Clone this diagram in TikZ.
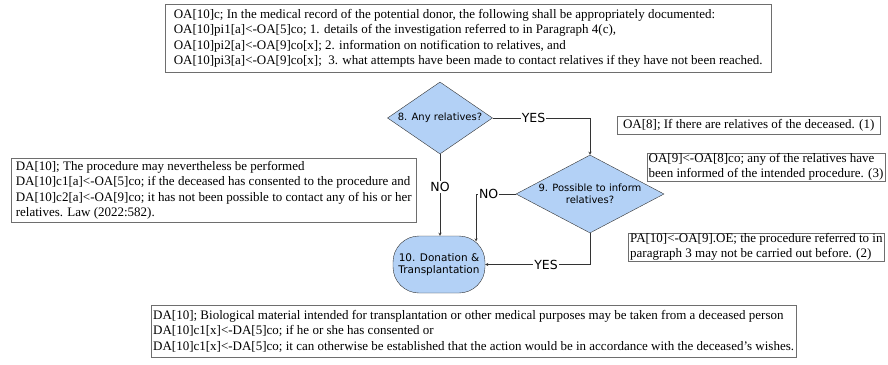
\documentclass[tikz,border=0pt]{standalone}
\usepackage{fontspec}
\setmainfont{Liberation Serif}
\newfontfamily\flowfont{DejaVu Sans}
\usetikzlibrary{shapes.geometric}

\definecolor{flowblue}{HTML}{B3D1F6}
\definecolor{boxgray}{HTML}{6E6E6E}
\definecolor{linegray}{HTML}{333333}

\tikzset{
    lawbox/.style={rectangle, draw=boxgray, align=left, anchor=north west,
        inner xsep=2pt, inner ysep=0pt, font=\fontsize{13}{15.3}\selectfont},
    decision/.style={diamond, draw=linegray, fill=flowblue, inner sep=0pt,
        align=center, font=\flowfont\fontsize{10}{12.5}\selectfont},
    terminal/.style={rectangle, rounded corners=26pt, draw=linegray, fill=flowblue,
        align=center, minimum width=92pt, minimum height=57pt,
        font=\flowfont\fontsize{10.5}{12.5}\selectfont},
    answer/.style={fill=white, inner sep=1pt, font=\flowfont\fontsize{12.5}{14}\selectfont},
    flow/.style={->, draw=linegray}
}

\begin{document}
\begin{tikzpicture}[x=1pt, y=-1pt, >=stealth]
    \useasboundingbox (0,0) rectangle (888,364);

    % Law text boxes
    \node[lawbox, minimum width=606pt, minimum height=68pt] (oa10) at (165,4)
        {OA[10]c; In the medical record of the potential donor, the following shall be appropriately documented:\\
         OA[10]pi1[a]<-OA[5]co; 1. details of the investigation referred to in Paragraph 4(c),\\
         OA[10]pi2[a]<-OA[9]co[x]; 2. information on notification to relatives, and\\
         OA[10]pi3[a]<-OA[9]co[x];\ \ 3. what attempts have been made to contact relatives if they have not been reached.};
    \node[lawbox, minimum width=405pt, minimum height=64pt] (da10) at (11,158)
        {DA[10]; The procedure may nevertheless be performed\\
         DA[10]c1[a]<-OA[5]co; if the deceased has consented to the procedure and\\
         DA[10]c2[a]<-OA[9]co; it has not been possible to contact any of his or her\\
         relatives. Law (2022:582).};
    \node[lawbox, minimum width=263pt, minimum height=18pt] (oa8) at (617,116)
        {OA[8]; If there are relatives of the deceased. (1)};
    \node[lawbox, inner xsep=1.5pt, minimum height=28pt, font=\fontsize{13}{15}\selectfont] (oa9) at (647,153)
        {OA[9]<-OA[8]co; any of the relatives have\\
         been informed of the intended procedure. (3)};
    \node[lawbox, minimum height=28pt, font=\fontsize{13}{15}\selectfont] (pa10) at (628,233)
        {PA[10]<-OA[9].OE; the procedure referred to in\\
         paragraph 3 may not be carried out before. (2)};
    \node[lawbox, minimum height=52pt, font=\fontsize{13}{15.5}\selectfont] (da10b) at (151,305)
        {DA[10]; Biological material intended for transplantation or other medical purposes may be taken from a deceased person\\
         DA[10]c1[x]<-DA[5]co; if he or she has consented or\\
         DA[10]c1[x]<-DA[5]co; it can otherwise be established that the action would be in accordance with the deceased's wishes.};

    % Decisions
    \node[decision, aspect=1.46, minimum width=105pt, minimum height=72pt] (q8) at (440,118) {8. Any relatives?};
    \node[decision, aspect=1.9, minimum width=148pt, minimum height=78pt] (q9) at (590,194) {9. Possible to inform\\relatives?};
    \node[terminal] (don) at (439,264.5) {10. Donation \&\\Transplantation};

    % Connections
    \coordinate (q9no) at (476,194);
    \coordinate (donin) at (476,241.5);
    \draw[flow] (q8.east) -| node[answer, pos=0.21] {YES} (q9.north);
    \draw[flow] (q8.south) -- node[answer, pos=0.4] {NO} (don.north -| q8.south);
    \draw[flow] (q9.west) -- node[answer, pos=0.68] {NO} (q9no) -- (donin);
    \draw[flow] (q9.south) |- node[answer, pos=0.71] {YES} (don.east);
\end{tikzpicture}
\end{document}
